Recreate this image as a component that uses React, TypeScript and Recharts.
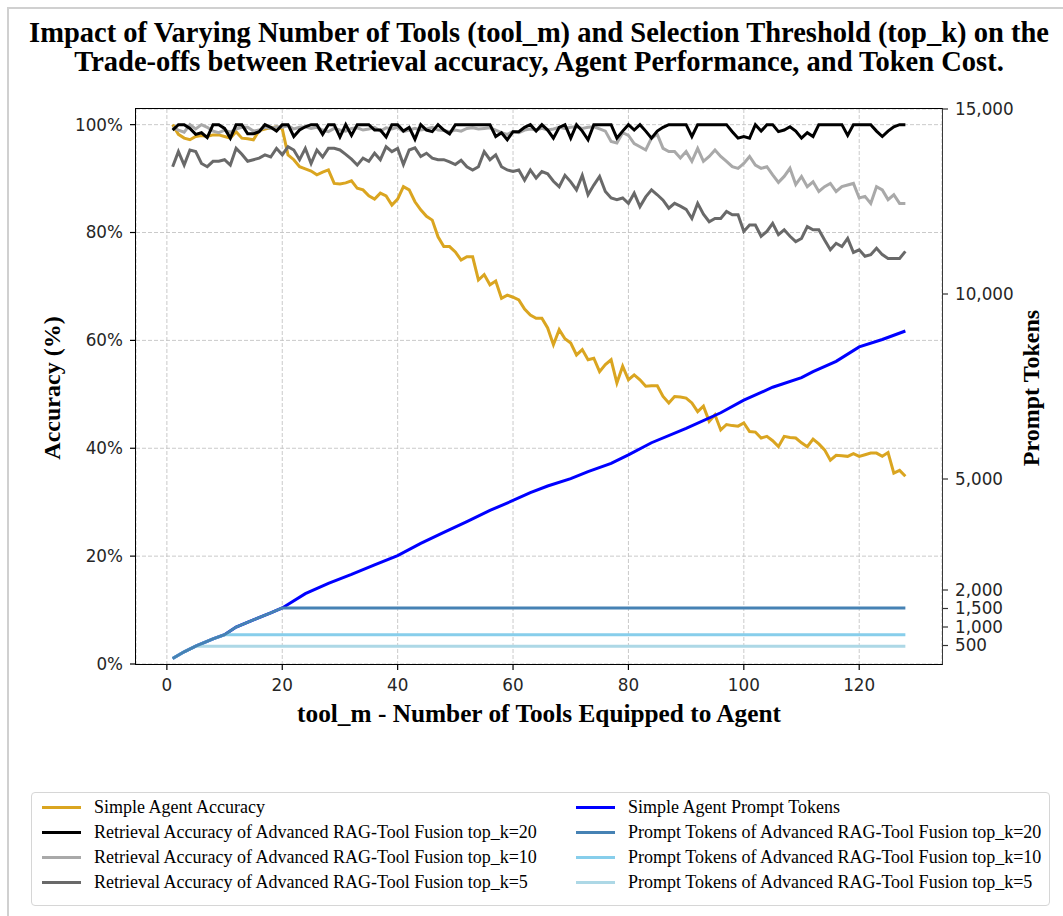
import React from "react";
import { LineChart, Line, XAxis, YAxis, CartesianGrid } from "recharts";

// tool_m values on the x axis
const toolCounts = Array.from({ length: 128 }, (_, i) => i + 1);

const simpleAgentAccuracy = [
  100, 98.2, 97.5, 97.2, 97.8, 98.0, 97.8, 98.1, 98.1, 97.8,
  97.5, 98.7, 97.5, 97.4, 97.2, 98.9, 99.2, 99.4, 99.6, 99.2,
  94.4, 93.5, 92.2, 91.8, 91.4, 90.7, 91.2, 91.6, 89.1, 89.0,
  89.2, 89.6, 88.2, 87.9, 86.8, 86.2, 87.3, 86.8, 85.1, 86.2,
  88.5, 87.9, 85.7, 84.2, 83.0, 82.3, 79.2, 77.4, 77.4, 76.4,
  74.9, 75.5, 75.5, 71.2, 72.2, 70.3, 71.0, 67.8, 68.4, 68.0,
  67.5, 65.8, 64.7, 64.1, 64.1, 62.3, 59.2, 62.0, 60.3, 59.5,
  57.3, 58.3, 56.4, 56.7, 54.2, 55.5, 56.4, 52.1, 55.2, 52.7,
  53.6, 52.7, 51.5, 51.6, 51.6, 49.6, 48.4, 49.6, 49.5, 49.3,
  48.4, 46.8, 47.8, 45.0, 46.2, 43.4, 44.4, 44.2, 44.1, 44.7,
  43.1, 43.0, 41.9, 42.2, 41.4, 40.3, 42.2, 42.0, 41.9, 41.0,
  40.3, 41.7, 40.8, 39.7, 37.8, 38.7, 38.6, 38.5, 39.0, 38.5,
  38.8, 39.1, 39.1, 38.5, 39.2, 35.4, 35.9, 34.8,
];

const ragTop20Accuracy = [
  99.0, 100, 100, 99.3, 98.2, 98.5, 97.6, 100, 100, 99.3,
  97.5, 100, 100, 98.3, 98.3, 98.7, 100, 99.5, 98.8, 100,
  100, 97.8, 99.0, 99.6, 100, 100, 98.2, 100, 100, 97.7,
  100, 98.0, 100, 100, 100, 99.0, 99.0, 97.7, 100, 100,
  98.8, 99.5, 97.3, 100, 99.0, 98.7, 100, 99.0, 98.3, 100,
  100, 100, 100, 100, 100, 100, 97.8, 98.5, 97.2, 98.7,
  98.7, 99.5, 100, 98.8, 100, 99.0, 97.5, 99.5, 100, 97.5,
  100, 98.8, 97.2, 100, 100, 100, 100, 97.5, 98.8, 100,
  99.0, 100, 98.8, 97.5, 98.8, 99.5, 100, 100, 100, 100,
  97.8, 100, 100, 100, 100, 100, 100, 98.7, 97.5, 97.8,
  97.5, 100, 98.8, 100, 100, 98.7, 99.0, 99.6, 98.8, 97.5,
  98.5, 97.8, 100, 100, 100, 100, 100, 98.0, 100, 100,
  100, 100, 98.8, 97.8, 98.8, 99.6, 100, 100,
];

const ragTop10Accuracy = [
  99.5, 99.0, 98.6, 100, 99.2, 100, 99.5, 98.8, 98.5, 99.0,
  98.6, 99.2, 99.5, 99.5, 98.8, 99.0, 99.5, 99.3, 99.6, 99.5,
  99.8, 99.2, 99.5, 99.6, 99.3, 99.5, 99.0, 98.7, 99.3, 99.0,
  98.8, 99.3, 99.4, 99.0, 99.2, 99.5, 98.8, 99.4, 99.2, 99.5,
  98.7, 99.0, 99.3, 99.0, 99.2, 99.5, 99.0, 98.9, 98.7, 99.0,
  98.8, 99.3, 99.4, 99.2, 99.3, 99.4, 99.0, 98.5, 98.2, 98.7,
  98.5, 99.0, 99.2, 99.0, 99.3, 99.0, 99.2, 99.5, 99.3, 99.5,
  99.6, 99.3, 99.5, 99.6, 99.2, 98.8, 96.9, 96.6, 98.5, 98.0,
  96.5, 95.9, 95.3, 97.5, 98.2, 95.6, 95.0, 95.0, 93.8, 95.0,
  93.2, 95.6, 93.2, 94.1, 95.3, 94.1, 93.2, 92.2, 91.9, 92.8,
  94.1, 92.5, 91.9, 92.2, 90.7, 89.3, 90.4, 91.9, 88.9, 90.4,
  88.5, 89.4, 87.6, 88.5, 89.1, 87.6, 88.5, 88.8, 89.1, 86.4,
  86.7, 85.4, 88.5, 87.9, 86.1, 87.0, 85.4, 85.4,
];

const ragTop5Accuracy = [
  92.2, 95.0, 92.5, 95.3, 95.0, 92.8, 92.2, 93.2, 93.2, 93.5,
  92.5, 95.6, 94.5, 93.2, 93.5, 93.8, 94.4, 94.0, 95.6, 94.4,
  95.9, 95.3, 93.5, 95.6, 92.8, 95.3, 94.0, 95.6, 95.6, 95.3,
  94.5, 93.6, 92.5, 93.8, 93.2, 94.7, 93.5, 95.9, 95.0, 95.6,
  92.6, 95.3, 95.7, 94.1, 94.7, 93.8, 93.5, 93.5, 93.1, 92.6,
  93.4, 92.2, 91.6, 92.2, 95.0, 93.5, 94.4, 92.2, 91.6, 91.3,
  91.6, 89.7, 91.6, 90.1, 91.3, 90.9, 89.5, 88.5, 90.6, 89.4,
  87.9, 90.6, 87.0, 88.8, 90.4, 87.6, 86.4, 86.1, 86.4, 85.4,
  87.3, 84.8, 86.6, 87.9, 87.0, 86.0, 84.5, 85.4, 84.9, 84.3,
  82.6, 85.4, 83.4, 82.0, 82.6, 82.6, 83.9, 83.3, 83.3, 80.2,
  81.4, 81.4, 79.3, 80.2, 81.7, 79.6, 80.5, 79.3, 78.3, 78.9,
  81.1, 80.5, 80.5, 78.6, 76.8, 78.0, 77.4, 78.9, 76.3, 76.8,
  75.6, 75.9, 77.1, 75.9, 75.2, 75.2, 75.2, 76.5,
];

// prompt tokens, read at the tool counts listed next to them
const simpleTokenTools = [1, 3, 5, 8, 10, 12, 15, 18, 20, 24, 28, 32, 36, 40, 44, 48, 52, 56, 60, 63, 66, 70, 73, 77, 80, 84, 90, 96, 100, 105, 110, 112, 116, 120, 124, 128];
const simpleTokens = [148, 330, 480, 680, 790, 1000, 1190, 1380, 1516, 1900, 2180, 2420, 2680, 2930, 3260, 3560, 3850, 4150, 4420, 4630, 4810, 5010, 5200, 5420, 5650, 5980, 6370, 6790, 7130, 7480, 7740, 7900, 8180, 8570, 8770, 9000];

const rag20TokenTools = [1, 3, 5, 8, 10, 12, 15, 18, 20, 128];
const rag20Tokens = [148, 330, 480, 680, 790, 1000, 1190, 1380, 1516, 1516];
const rag10TokenTools = [1, 3, 5, 8, 10, 128];
const rag10Tokens = [148, 330, 480, 680, 790, 790];
const rag5TokenTools = [1, 3, 5, 128];
const rag5Tokens = [148, 330, 480, 480];

const xTicks = [0, 20, 40, 60, 80, 100, 120];
const accTicks = [0, 20, 40, 60, 80, 100];
const tokenTicks = [500, 1000, 1500, 2000, 5000, 10000, 15000];

const pick = (tools: number[], vals: number[], m: number) => {
  const i = tools.indexOf(m);
  return i >= 0 ? vals[i] : null;
};

const data = toolCounts.map((m, i) => ({
  m,
  simpleAcc: simpleAgentAccuracy[i],
  rag20Acc: ragTop20Accuracy[i],
  rag10Acc: ragTop10Accuracy[i],
  rag5Acc: ragTop5Accuracy[i],
  simpleTok: pick(simpleTokenTools, simpleTokens, m),
  rag20Tok: pick(rag20TokenTools, rag20Tokens, m),
  rag10Tok: pick(rag10TokenTools, rag10Tokens, m),
  rag5Tok: pick(rag5TokenTools, rag5Tokens, m),
}));

const legendLeft = [
  { label: "Simple Agent Accuracy", color: "#DAA520" },
  { label: "Retrieval Accuracy of Advanced RAG-Tool Fusion top_k=20", color: "#000000" },
  { label: "Retrieval Accuracy of Advanced RAG-Tool Fusion top_k=10", color: "#A9A9A9" },
  { label: "Retrieval Accuracy of Advanced RAG-Tool Fusion top_k=5", color: "#696969" },
];
const legendRight = [
  { label: "Simple Agent Prompt Tokens", color: "#0000FF" },
  { label: "Prompt Tokens of Advanced RAG-Tool Fusion top_k=20", color: "#4682B4" },
  { label: "Prompt Tokens of Advanced RAG-Tool Fusion top_k=10", color: "#87CEEB" },
  { label: "Prompt Tokens of Advanced RAG-Tool Fusion top_k=5", color: "#ADD8E6" },
];

const serif = '"Liberation Serif", "Times New Roman", serif';
const tickStyle = { fill: "#262626", fontSize: 16.8, fontFamily: '"DejaVu Sans", sans-serif' };
const LW = 3;

function LegendColumn({ items, x, textX }: { items: { label: string; color: string }[]; x: number; textX: number }) {
  return (
    <>
      {items.map((it, i) => (
        <div key={it.label} style={{ position: "absolute", left: 0, top: 807 + i * 25 - 12, height: 24, width: 1063 }}>
          <div style={{ position: "absolute", left: x, top: 10.5, width: 39, height: 3, background: it.color }} />
          <div style={{ position: "absolute", left: textX, top: 0, lineHeight: "24px", fontSize: 18, fontFamily: serif, color: "#000", whiteSpace: "nowrap" }}>
            {it.label}
          </div>
        </div>
      ))}
    </>
  );
}

export default function App() {
  return (
    <div style={{ position: "absolute", left: 0, top: 0, width: 1063, height: 916, background: "#fff", overflow: "hidden" }}>
      {/* outer border of the figure */}
      <div style={{ position: "absolute", left: 7, top: 7, width: 1100, height: 1000, borderLeft: "2px solid #d0d0d0", borderTop: "2px solid #d0d0d0" }} />

      <div style={{ position: "absolute", left: 0, top: 18, width: 1078, textAlign: "center", fontFamily: serif, fontWeight: "bold", fontSize: 28.5, lineHeight: "29px", color: "#000", whiteSpace: "nowrap" }}>
        <div>Impact of Varying Number of Tools (tool_m) and Selection Threshold (top_k) on the</div>
        <div>Trade-offs between Retrieval accuracy, Agent Performance, and Token Cost.</div>
      </div>

      <div style={{ position: "absolute", left: 0, top: 0 }}>
        <LineChart width={1063} height={760} data={data} margin={{ top: 109, right: 41, bottom: 66, left: 60 }}>
          <CartesianGrid yAxisId="left" stroke="#c4c4c4" strokeDasharray="4 2" strokeWidth={0.9} />
          <XAxis
            dataKey="m"
            type="number"
            domain={[-5.35, 134.35]}
            ticks={xTicks}
            interval={0}
            allowDataOverflow
            axisLine={false}
            tickLine={{ stroke: "#000", strokeWidth: 1.2 }}
            tickSize={6}
            tickMargin={9}
            height={30}
            tick={tickStyle}
          />
          <YAxis
            yAxisId="left"
            domain={[0, 102.9]}
            ticks={accTicks}
            interval={0}
            allowDataOverflow
            tickFormatter={(v: number) => `${v}%`}
            axisLine={false}
            tickLine={{ stroke: "#000", strokeWidth: 1.2 }}
            tickSize={6}
            tickMargin={7}
            width={76}
            tick={tickStyle}
          />
          <YAxis
            yAxisId="right"
            orientation="right"
            domain={[0, 15000]}
            ticks={tokenTicks}
            interval={0}
            allowDataOverflow
            tickFormatter={(v: number) => v.toLocaleString("en-US")}
            axisLine={false}
            tickLine={{ stroke: "#333", strokeWidth: 1.2 }}
            tickSize={6}
            tickMargin={7}
            width={80}
            tick={{ ...tickStyle, textAnchor: "start" }}
          />
          <Line yAxisId="left" dataKey="simpleAcc" stroke="#DAA520" strokeWidth={LW} dot={false} isAnimationActive={false} />
          <Line yAxisId="left" dataKey="rag10Acc" stroke="#A9A9A9" strokeWidth={LW} dot={false} isAnimationActive={false} />
          <Line yAxisId="left" dataKey="rag20Acc" stroke="#000000" strokeWidth={LW} dot={false} isAnimationActive={false} />
          <Line yAxisId="left" dataKey="rag5Acc" stroke="#696969" strokeWidth={LW} dot={false} isAnimationActive={false} />
          <Line yAxisId="right" dataKey="simpleTok" stroke="#0000FF" strokeWidth={LW} dot={false} connectNulls isAnimationActive={false} />
          <Line yAxisId="right" dataKey="rag5Tok" stroke="#ADD8E6" strokeWidth={LW} dot={false} connectNulls isAnimationActive={false} />
          <Line yAxisId="right" dataKey="rag10Tok" stroke="#87CEEB" strokeWidth={LW} dot={false} connectNulls isAnimationActive={false} />
          <Line yAxisId="right" dataKey="rag20Tok" stroke="#4682B4" strokeWidth={LW} dot={false} connectNulls isAnimationActive={false} />
        </LineChart>
      </div>

      {/* plot frame */}
      <div style={{ position: "absolute", left: 135, top: 108, width: 808, height: 557, boxSizing: "border-box", border: "1.8px solid #000", borderRightColor: "#3a3a3a", pointerEvents: "none" }} />

      {/* axis titles */}
      <div style={{ position: "absolute", left: 539, top: 713, transform: "translate(-50%, -50%)", fontFamily: serif, fontWeight: "bold", fontSize: 25.3, whiteSpace: "nowrap" }}>
        tool_m - Number of Tools Equipped to Agent
      </div>
      <div style={{ position: "absolute", left: 52, top: 388, transform: "translate(-50%, -50%) rotate(-90deg)", fontFamily: serif, fontWeight: "bold", fontSize: 24, whiteSpace: "nowrap" }}>
        Accuracy (%)
      </div>
      <div style={{ position: "absolute", left: 1031, top: 388, transform: "translate(-50%, -50%) rotate(-90deg)", fontFamily: serif, fontWeight: "bold", fontSize: 24, whiteSpace: "nowrap" }}>
        Prompt Tokens
      </div>

      {/* legend */}
      <div style={{ position: "absolute", left: 31, top: 792, width: 1019, height: 114, boxSizing: "border-box", border: "1px solid #d6d6d6", borderRadius: 4 }} />
      <LegendColumn items={legendLeft} x={42} textX={94} />
      <LegendColumn items={legendRight} x={576} textX={628} />
    </div>
  );
}
